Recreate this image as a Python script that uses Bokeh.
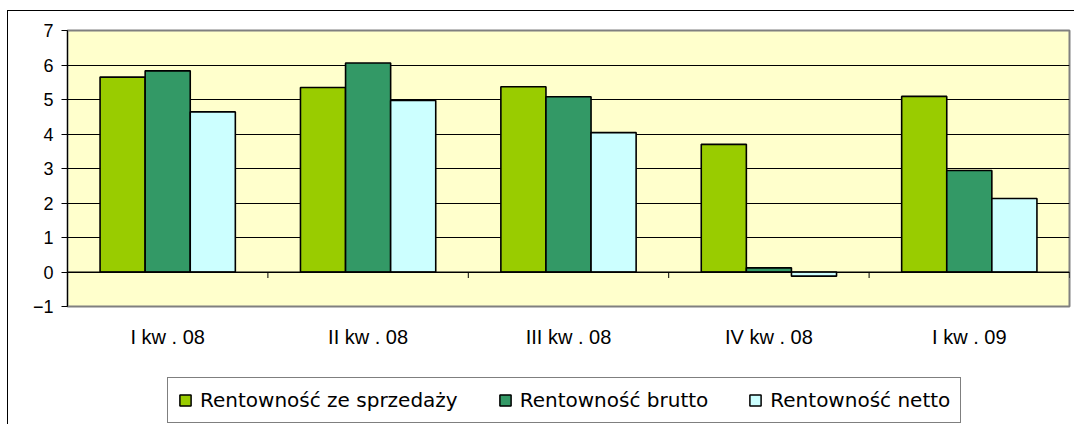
import math
from bokeh.plotting import figure
from bokeh.layouts import column
from bokeh.models import Range1d, FixedTicker, Legend, LegendItem, Span, ColumnDataSource
from bokeh.embed import file_html
from bokeh.resources import INLINE

categories = ["I kw . 08", "II kw . 08", "III kw . 08", "IV kw . 08", "I kw . 09"]
sprzedaz = [5.65, 5.35, 5.37, 3.70, 5.09]
brutto = [5.83, 6.06, 5.08, 0.12, 2.94]
netto = [4.64, 4.97, 4.04, -0.12, 2.13]
series_names = ["Rentowność ze sprzedaży", "Rentowność brutto", "Rentowność netto"]
series_colors = ["#99CC00", "#339966", "#CCFFFF"]
y_ticks = [-1, 0, 1, 2, 3, 4, 5, 6, 7]

n = len(categories)
p = figure(width=1066, height=343, output_backend="svg", toolbar_location=None,
           x_range=Range1d(0, n), y_range=Range1d(-1, 7),
           min_border_left=59, min_border_right=5, min_border_top=19, min_border_bottom=48)

p.background_fill_color = "#FFFFCC"
p.border_fill_color = "#FFFFFF"
p.outline_line_color = "#808080"
p.outline_line_width = 2

p.xgrid.visible = False
p.ygrid.ticker = FixedTicker(ticks=y_ticks)
p.ygrid.grid_line_color = "#000000"
p.ygrid.grid_line_width = 1

p.yaxis.ticker = FixedTicker(ticks=y_ticks)
p.yaxis.axis_line_color = "#000000"
p.yaxis.major_tick_out = 6
p.yaxis.major_tick_in = 0
p.yaxis.minor_tick_line_color = None
p.yaxis.major_label_standoff = 8
p.yaxis.major_label_text_font = "Liberation Sans"
p.yaxis.major_label_text_font_size = "18px"
p.yaxis.major_label_text_color = "#000000"

centers = [i + 0.5 for i in range(n)]
p.xaxis.ticker = FixedTicker(ticks=centers)
p.xaxis.major_label_overrides = {c: lab for c, lab in zip(centers, categories)}
p.xaxis.axis_line_color = None
p.xaxis.major_tick_line_color = None
p.xaxis.minor_tick_line_color = None
p.xaxis.major_label_standoff = 13
p.xaxis.major_label_text_font = "Liberation Sans"
p.xaxis.major_label_text_font_size = "20px"
p.xaxis.major_label_text_color = "#000000"

bar_w = 0.225
offsets = [-bar_w, 0.0, bar_w]
series_values = [sprzedaz, brutto, netto]
for vals, off, col in zip(series_values, offsets, series_colors):
    src = ColumnDataSource(dict(x=[c + off for c in centers], top=vals))
    p.vbar(x="x", top="top", bottom=0, width=bar_w, source=src,
           fill_color=col, line_color="#000000", line_width=1.6)

p.add_layout(Span(location=0, dimension="width", line_color="#000000", line_width=1.2))
bounds = list(range(n + 1))
p.ray(x=bounds, y=[0] * len(bounds), length=6, length_units="screen",
      angle=-math.pi / 2, line_color="#000000", line_width=1)

# legend strip below the chart (legend keys use hidden copies of the series)
lg = figure(width=1066, height=70, output_backend="svg", toolbar_location=None,
            x_range=Range1d(0, 1), y_range=Range1d(0, 1),
            x_axis_type=None, y_axis_type=None,
            min_border_left=0, min_border_right=0, min_border_top=0, min_border_bottom=0)
lg.outline_line_color = None
lg.background_fill_color = "#FFFFFF"
lg.border_fill_color = "#FFFFFF"
lg.xgrid.visible = False
lg.ygrid.visible = False
leg_renderers = []
for vals, off, col in zip(series_values, offsets, series_colors):
    r = lg.vbar(x=[c + off for c in centers], top=vals, width=bar_w,
                fill_color=col, line_color="#000000", line_width=1.5)
    r.visible = False
    leg_renderers.append(r)

legend = Legend(items=[LegendItem(label=nm, renderers=[r]) for nm, r in zip(series_names, leg_renderers)],
                orientation="horizontal", location=(100, 1),
                label_text_font="DejaVu Sans", label_text_font_size="20px",
                label_text_color="#000000",
                glyph_width=14, glyph_height=14, label_standoff=8, spacing=40,
                padding=10, margin=0,
                border_line_color="#000000", border_line_width=1,
                background_fill_color="#FFFFFF", background_fill_alpha=1)
lg.add_layout(legend, "center")

layout = column(p, lg, spacing=0)
layout.styles = {"border-top": "1px solid #000000", "border-left": "1px solid #000000",
                 "margin-top": "10px", "margin-left": "7px"}

open("out.html", "w").write(file_html(layout, INLINE))
